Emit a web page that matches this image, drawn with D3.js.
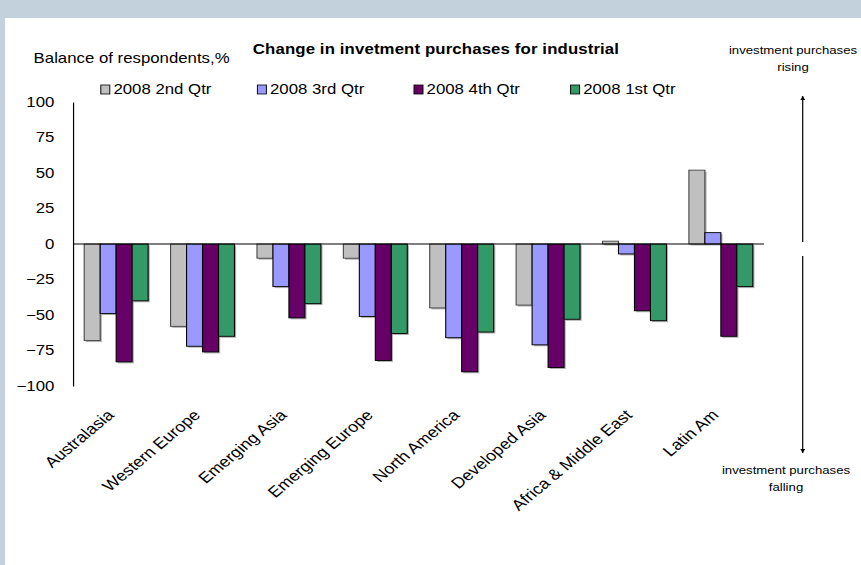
<!DOCTYPE html>
<html>
<head>
<meta charset="utf-8">
<script src="https://cdn.jsdelivr.net/npm/d3@7"></script>
<style>
body { margin: 0; background: #c3d1dc; overflow: hidden; }
text { font-family: Arial, "Liberation Sans", sans-serif; fill: #000; }
</style>
</head>
<body>
<div id="chart"></div>
<script>
// DATA
const categories = ["Australasia", "Western Europe", "Emerging Asia", "Emerging Europe",
	"North America", "Developed Asia", "Africa & Middle East", "Latin Am"];
const series = ["2008 2nd Qtr", "2008 3rd Qtr", "2008 4th Qtr", "2008 1st Qtr"];

const q2 = [-68, -58, -10, -10, -45, -43, 2, 52];
const q3 = [-49, -72, -30, -51, -66, -71, -7, 8];
const q4 = [-83, -76, -52, -82, -90, -87, -47, -65];
const q1 = [-40, -65, -42, -63, -62, -53, -54, -30];

const yTicks = [100, 75, 50, 25, 0, -25, -50, -75, -100];
const colors = ["#c0c0c0", "#9999ff", "#660066", "#339966"];

const rows = categories.map((c, i) => ({
	cat: c,
	values: [q2[i], q3[i], q4[i], q1[i]]
}));

// the source picture is stretched sideways, so draw in a narrower box
// and let the viewBox widen everything (text included)
const W = 861, H = 565, stretch = 1.2;
const w = W / stretch;

const svg = d3.select("#chart")
	.append("svg")
	.attr("width", W)
	.attr("height", H)
	.attr("viewBox", `0 0 ${w} ${H}`)
	.attr("preserveAspectRatio", "none");

// white panel
svg.append("rect")
	.attr("x", 5 / stretch)
	.attr("y", 18)
	.attr("width", w)
	.attr("height", H)
	.attr("fill", "#fff");

const x0 = d3.scaleBand()
	.domain(categories)
	.range([60.8, 636.7])
	.paddingInner(0.26)
	.paddingOuter(0.13);

const x1 = d3.scaleBand()
	.domain(series)
	.range([0, x0.bandwidth()]);

const y = d3.scaleLinear()
	.domain([-100, 100])
	.range([386, 102]);

// y axis
const yAxis = d3.axisLeft(y)
	.tickValues(yTicks)
	.tickSize(0)
	.tickSizeOuter(0)
	.tickPadding(15.5);

const yg = svg.append("g")
	.attr("transform", "translate(60.8,0)")
	.call(yAxis);
yg.select(".domain").attr("stroke", "#000");
yg.selectAll("text")
	.style("font-size", "14px")
	.style("font-family", "Arial, 'Liberation Sans', sans-serif");

// bars
const groups = svg.selectAll(".grp")
	.data(rows)
	.enter()
	.append("g")
	.attr("class", "grp")
	.attr("transform", d => `translate(${x0(d.cat)},0)`);

// faint shadow behind each bar
groups.selectAll(".shadow")
	.data(d => d.values.map((v, i) => ({ s: series[i], v: v })))
	.enter()
	.append("rect")
	.attr("x", d => x1(d.s) + 1.4)
	.attr("y", d => Math.min(y(d.v), y(0)) + 1.5)
	.attr("width", x1.bandwidth())
	.attr("height", d => Math.abs(y(d.v) - y(0)))
	.attr("fill", "#b0b0b0");

groups.selectAll(".bar")
	.data(d => d.values.map((v, i) => ({ s: series[i], v: v, i: i })))
	.enter()
	.append("rect")
	.attr("class", "bar")
	.attr("x", d => x1(d.s))
	.attr("y", d => Math.min(y(d.v), y(0)))
	.attr("width", x1.bandwidth())
	.attr("height", d => Math.abs(y(d.v) - y(0)))
	.attr("fill", d => colors[d.i])
	.attr("stroke", d => d.i === 0 ? "#444" : "#000")
	.attr("stroke-width", 0.9);

// zero line
svg.append("line")
	.attr("x1", 60.8)
	.attr("x2", 636.7)
	.attr("y1", y(0))
	.attr("y2", y(0))
	.attr("stroke", "#000")
	.attr("stroke-width", 1);

// category labels
const xAxis = d3.axisBottom(x0)
	.tickSize(0)
	.tickSizeOuter(0);

const xg = svg.append("g")
	.attr("transform", "translate(0,386)")
	.call(xAxis);
xg.select(".domain").remove();
xg.selectAll("text")
	.attr("x", 0)
	.attr("y", 0)
	.attr("dy", 0)
	.attr("text-anchor", "end")
	.attr("transform", "translate(-1,30) rotate(-45)")
	.style("font-size", "15px")
	.style("font-family", "Arial, 'Liberation Sans', sans-serif");

// legend
const legend = svg.selectAll(".leg")
	.data(series)
	.enter()
	.append("g")
	.attr("class", "leg")
	.attr("transform", (d, i) => `translate(${84 + i * 130.5},0)`);

legend.append("rect")
	.attr("x", 0)
	.attr("y", 85)
	.attr("width", 7.5)
	.attr("height", 9)
	.attr("fill", (d, i) => colors[i])
	.attr("stroke", "#000")
	.attr("stroke-width", 0.8);

legend.append("text")
	.attr("x", 10.5)
	.attr("y", 94)
	.style("font-size", "14px")
	.text(d => d);

// titles
svg.append("text")
	.attr("x", 363.3)
	.attr("y", 54)
	.attr("text-anchor", "middle")
	.style("font-size", "14px")
	.style("font-weight", "bold")
	.style("letter-spacing", "0.1px")
	.text("Change in invetment purchases for industrial");

svg.append("text")
	.attr("x", 28)
	.attr("y", 63)
	.style("font-size", "14px")
	.text("Balance of respondents,%");

// right side notes and arrows
const defs = svg.append("defs");
defs.append("marker")
	.attr("id", "head")
	.attr("viewBox", "0 0 10 10")
	.attr("refX", 10)
	.attr("refY", 5)
	.attr("markerWidth", 4)
	.attr("markerHeight", 4)
	.attr("orient", "auto")
	.append("path")
	.attr("d", "M0,0 L10,5 L0,10 z")
	.attr("fill", "#000");

const ax = 802.7 / stretch;

svg.append("line")
	.attr("x1", ax).attr("x2", ax)
	.attr("y1", 242).attr("y2", 96)
	.attr("stroke", "#000")
	.attr("marker-end", "url(#head)");

svg.append("line")
	.attr("x1", ax).attr("x2", ax)
	.attr("y1", 256).attr("y2", 453)
	.attr("stroke", "#000")
	.attr("marker-end", "url(#head)");

const notes = [
	{ x: 793 / stretch, y: 54, t: "investment purchases" },
	{ x: 793 / stretch, y: 71, t: "rising" },
	{ x: 786 / stretch, y: 474, t: "investment purchases" },
	{ x: 786 / stretch, y: 491, t: "falling" }
];

svg.selectAll(".note")
	.data(notes)
	.enter()
	.append("text")
	.attr("class", "note")
	.attr("x", d => d.x)
	.attr("y", d => d.y)
	.attr("text-anchor", "middle")
	.style("font-size", "11px")
	.text(d => d.t);
</script>
</body>
</html>
